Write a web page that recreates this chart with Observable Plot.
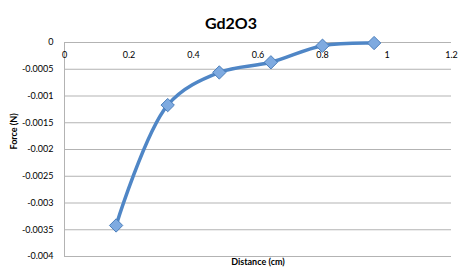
<!DOCTYPE html>
<html><head><meta charset="utf-8">
<script src="https://cdn.jsdelivr.net/npm/d3@7"></script>
<script src="https://cdn.jsdelivr.net/npm/@observablehq/plot@0.6"></script>
<style>body{margin:0;background:#fff}</style>
</head><body><div id="chart"></div>
<script>
const distance = [0.16, 0.32, 0.48, 0.64, 0.8, 0.96];
const force = [-0.00342, -0.00117, -0.00056, -0.00037, -0.00006, -0.00001];
const xTicks = [0, 0.2, 0.4, 0.6, 0.8, 1, 1.2];
const yTicks = [0, -0.0005, -0.001, -0.0015, -0.002, -0.0025, -0.003, -0.0035, -0.004];
const title = "Gd2O3";
const xLabel = "Distance (cm)";
const yLabel = "Force (N)";

const data = distance.map((d, i) => ({x: d, y: force[i]}));
const font = "Lato, 'Open Sans', sans-serif";

const chart = Plot.plot({
  width: 458, height: 270,
  marginTop: 42, marginBottom: 14, marginLeft: 64, marginRight: 7,
  style: {fontFamily: font, fontSize: "9px", color: "#000", background: "#fff"},
  x: {domain: [0, 1.2], axis: null},
  y: {domain: [-0.004, 0]},
  marks: [
    Plot.ruleY(yTicks, {stroke: "#b3b3b3", strokeWidth: 1, strokeOpacity: 1}),
    Plot.ruleX([0], {stroke: "#b3b3b3", strokeWidth: 1, strokeOpacity: 1}),
    Plot.axisY({ticks: yTicks, tickSize: 0, tickPadding: 11, tickFormat: d => String(d), label: null, fontSize: 9}),
    Plot.text(xTicks, {x: d => d, y: 0, text: d => String(d), dy: 13, fontSize: 9}),
    Plot.line(data, {x: "x", y: "y", curve: "catmull-rom", stroke: "#4f86c6", strokeWidth: 3.5}),
    Plot.dot(data, {x: "x", y: "y", symbol: "diamond2", r: 6, fill: "#7eaae0", stroke: "#4a7ebb", strokeWidth: 1}),
    Plot.text([title], {frameAnchor: "top", dy: -25, dx: -27, fontSize: 16, fontWeight: "bold"}),
    Plot.text([xLabel], {frameAnchor: "bottom", dy: 8, fontSize: 9, fontWeight: "bold"}),
    Plot.text([yLabel], {frameAnchor: "left", dx: -50, dy: 0, rotate: -90, fontSize: 9, fontWeight: "bold"})
  ]
});
document.getElementById("chart").appendChild(chart);
</script>
</body></html>
